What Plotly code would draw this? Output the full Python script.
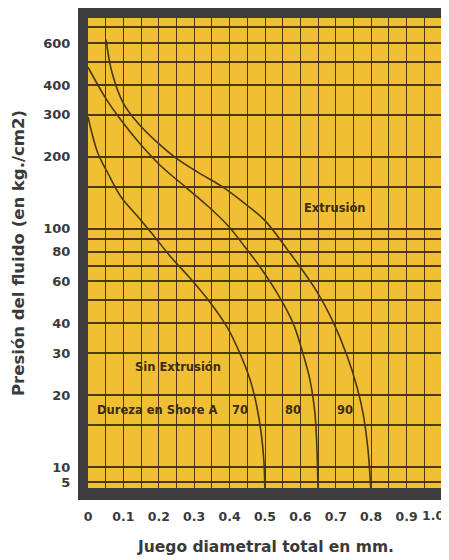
import plotly.graph_objects as go

# ---- data ----
x_70 = [0.0, 0.028, 0.056, 0.093, 0.141, 0.189, 0.234, 0.288, 0.345, 0.393, 0.429, 0.458, 0.477, 0.490, 0.497, 0.500]
y_70 = [294, 207, 171, 136, 112, 92, 76, 62, 49, 38.6, 30, 23.2, 17.9, 13.6, 10.5, 7.5]

x_80 = [0.0, 0.048, 0.093, 0.150, 0.206, 0.274, 0.339, 0.395, 0.440, 0.486, 0.534, 0.579, 0.607, 0.627, 0.641, 0.647, 0.650]
y_80 = [475, 356, 285, 224, 183, 150, 124, 103, 85, 69, 53.7, 40.2, 30, 23.2, 16.8, 11.6, 7.5]

x_90 = [0.051, 0.068, 0.100, 0.141, 0.198, 0.246, 0.311, 0.376, 0.444, 0.500, 0.565, 0.647, 0.692, 0.732, 0.760, 0.777, 0.791, 0.800]
y_90 = [620, 450, 335, 277, 228, 199, 172, 151, 127, 108, 81, 54.3, 40.7, 29.2, 21.6, 16.8, 11.8, 7.5]

x_tick_vals = [0, 0.1, 0.2, 0.3, 0.4, 0.5, 0.6, 0.7, 0.8, 0.9]
x_tick_text = ["0", "0.1", "0.2", "0.3", "0.4", "0.5", "0.6", "0.7", "0.8", "0.9"]
x_last_label = "1.0"
x_minor_grid = [i * 0.05 for i in range(21)]

# "5" sits on a compressed stretch below 10 in the original chart
y_tick_vals = [8.65, 10, 20, 30, 40, 60, 80, 100, 200, 300, 400, 600]
y_tick_text = ["5", "10", "20", "30", "40", "60", "80", "100", "200", "300", "400", "600"]
y_minor_grid = [15, 50, 70, 90, 150, 500, 700]

curve_color = "#4a3812"
yellow = "#F1BF33"
frame = "#3c3b3d"
grid = "rgba(55,38,10,0.88)"
txt = "#3a3a3a"
font_fam = "DejaVu Sans"

fig = go.Figure()
for xs, ys in [(x_70, y_70), (x_80, y_80), (x_90, y_90)]:
    fig.add_trace(go.Scatter(x=xs, y=ys, mode="lines",
                             line=dict(color=curve_color, width=1.6, shape="spline", smoothing=1.0),
                             hoverinfo="skip", showlegend=False))

# page body has an 8px margin: the figure is drawn from (8, 8)
W, H = 441, 552
ml, mr, mt, mb = 80, 7, 10, 72
pw, ph = W - ml - mr, H - mt - mb

fig.update_layout(
    width=W, height=H,
    margin=dict(l=ml, r=mr, t=mt, b=mb),
    paper_bgcolor="white",
    plot_bgcolor=yellow,
    showlegend=False,
    xaxis=dict(range=[0, 1.0], tickvals=x_tick_vals, ticktext=x_tick_text,
               showgrid=False, zeroline=False, showline=False,
               ticks="outside", ticklen=17, tickcolor="rgba(0,0,0,0)",
               tickfont=dict(family=font_fam, size=12.5, color=txt, weight="bold"),
               minor=dict(tickvals=x_minor_grid, showgrid=True, gridcolor=grid, gridwidth=1.3, ticks="")),
    yaxis=dict(type="log", range=[0.912, 2.883], tickvals=y_tick_vals, ticktext=y_tick_text,
               showgrid=True, gridcolor=grid, gridwidth=1.8, zeroline=False, showline=False,
               ticks="outside", ticklen=14, tickcolor="rgba(0,0,0,0)",
               tickfont=dict(family=font_fam, size=13, color=txt, weight="bold"),
               minor=dict(tickvals=y_minor_grid, showgrid=True, gridcolor=grid, gridwidth=1.8, ticks="")),
)

# dark frame around the plot area
fx = 10 / pw
fyb = 12 / ph
fyt = 10 / ph
for x0, x1, y0, y1 in [(-fx, 0, -fyb, 1 + fyt), (1, 1 + fx, -fyb, 1 + fyt),
                       (-fx, 1 + fx, 1, 1 + fyt), (-fx, 1 + fx, -fyb, 0)]:
    fig.add_shape(type="rect", xref="paper", yref="paper", x0=x0, x1=x1, y0=y0, y1=y1,
                  fillcolor=frame, line=dict(width=0), layer="above")

# last x tick label (sits at the right edge of the picture)
fig.add_annotation(x=(W - 3 - ml) / pw, y=(480 - 507) / ph, xref="paper", yref="paper",
                   text=x_last_label, showarrow=False, xanchor="right", yanchor="middle",
                   font=dict(family=font_fam, size=12.5, color=txt, weight="bold"))

ann_font = dict(family=font_fam, size=11.5, color="#3b2d10", weight="bold")
fig.add_annotation(x=0.698, y=2.086, xref="x", yref="y", text="Extrusión", showarrow=False, font=ann_font)
fig.add_annotation(x=0.254, y=1.419, xref="x", yref="y", text="Sin Extrusión", showarrow=False, font=ann_font)
fig.add_annotation(x=0.02, y=1.239, xref="x", yref="y", text="Dureza en Shore A", showarrow=False,
                   xanchor="left", font=ann_font)
fig.add_annotation(x=0.43, y=1.239, xref="x", yref="y", text="70", showarrow=False, font=ann_font)
fig.add_annotation(x=0.58, y=1.239, xref="x", yref="y", text="80", showarrow=False, font=ann_font)
fig.add_annotation(x=0.726, y=1.239, xref="x", yref="y", text="90", showarrow=False, font=ann_font)

title_font = dict(family=font_fam, size=15.5, color=txt, weight="bold")
fig.add_annotation(x=0.5, y=(480 - 539) / ph, xref="paper", yref="paper",
                   text="Juego diametral total en mm.", showarrow=False, font=title_font,
                   xanchor="center", yanchor="middle")
fig.add_annotation(x=(10 - ml) / pw, y=(480 - 245) / ph, xref="paper", yref="paper",
                   text="Presión del fluido (en kg./cm2)", showarrow=False,
                   font=dict(family=font_fam, size=16.5, color=txt, weight="bold"),
                   textangle=-90, xanchor="center", yanchor="middle")

fig.write_html("out.html")
